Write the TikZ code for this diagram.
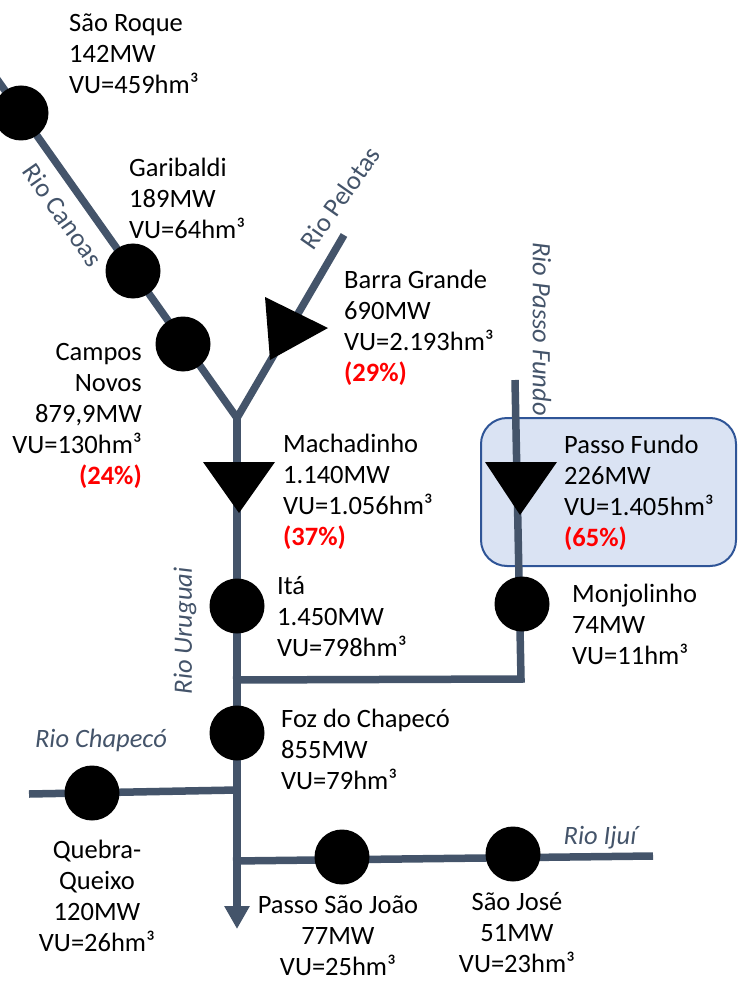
\documentclass[tikz,border=0pt]{standalone}
\usepackage{fontspec}
\setmainfont{Carlito}
\usetikzlibrary{arrows.meta}
\definecolor{river}{HTML}{44546A}
\definecolor{pct}{HTML}{FF0000}
\definecolor{boxfill}{HTML}{DAE3F3}
\definecolor{boxline}{HTML}{2F5597}
\newcommand{\pc}[1]{\textcolor{pct}{\textbf{#1}}}
\begin{document}
\begin{tikzpicture}[x=1pt,y=-1pt,
  riv/.style={draw=river, line width=7.5pt, line join=miter},
  plant/.style={circle, fill=black, minimum size=55pt, inner sep=0pt},
  dam/.style={fill=black},
  txt/.style={inner sep=0pt, font=\fontsize{26.5}{31}\selectfont},
  lbl/.style={txt, anchor=base west, align=left},
  rlbl/.style={txt, anchor=base east, align=right},
  clbl/.style={txt, anchor=base, align=center},
  rname/.style={txt, text=river},
  pfbox/.style={fill=boxfill, draw=boxline, line width=2pt, rounded corners=26pt}
]
\useasboundingbox (0,0) rectangle (738,981);
% Passo Fundo highlight box
\path[pfbox] (481,418) rectangle (736,566);
% coordinates
\coordinate (canoasTop) at (-6,75);
\coordinate (J) at (237,418);
\coordinate (pelotasTop) at (344,235);
\coordinate (uruEnd) at (237,929);
\coordinate (pfTop) at (515,380);
\coordinate (pfCorner) at (521,679);
\coordinate (pfJoin) at (233,680);
\coordinate (chapLeft) at (29,794);
\coordinate (chapJoin) at (237,790);
\coordinate (ijuiJoin) at (233,861);
\coordinate (ijuiRight) at (653,856);
% rivers
\draw[riv] (canoasTop) -- (J) -- (pelotasTop);
\draw[riv, -{Triangle[width=24pt,length=23pt]}] (J) -- (uruEnd);
\draw[riv] (pfTop) -- (pfCorner) -- (pfJoin);
\draw[riv] (chapLeft) -- (chapJoin);
\draw[riv] (ijuiJoin) -- (ijuiRight);
% run-of-river plants
\node[plant] (saoroque) at (21,113) {};
\node[plant] (garibaldi) at (133,271) {};
\node[plant] (campos) at (183,344) {};
\node[plant] (ita) at (237,606) {};
\node[plant] (monjolinho) at (522,604) {};
\node[plant] (foz) at (237,733) {};
\node[plant] (quebra) at (92,793) {};
\node[plant] (psj) at (342,857) {};
\node[plant] (saojose) at (513,854) {};
% reservoir plants (triangles)
\fill[dam] (265,297) -- (328,328) -- (270,360) -- cycle;
\fill[dam] (203,462) -- (275,462) -- (239,513) -- cycle;
\fill[dam] (485,462) -- (557,462) -- (520,515) -- cycle;
% plant labels (anchored at the baseline of the last line)
\node[lbl] (lsaoroque) at (69,94) {São Roque\\142MW\\VU=459hm³};
\node[lbl] (lgaribaldi) at (129,239) {Garibaldi\\189MW\\VU=64hm³};
\node[lbl] (lbarra) at (344,381) {Barra Grande\\690MW\\VU=2.193hm³\\\pc{(29\%)}};
\node[rlbl] (lcampos) at (142,484) {Campos\\Novos\\879,9MW\\VU=130hm³\\\pc{(24\%)}};
\node[lbl] (lmach) at (283,545) {Machadinho\\1.140MW\\VU=1.056hm³\\\pc{(37\%)}};
\node[lbl] (lpf) at (564,546) {Passo Fundo\\226MW\\VU=1.405hm³\\\pc{(65\%)}};
\node[lbl] (lmonj) at (572,664) {Monjolinho\\74MW\\VU=11hm³};
\node[lbl] (lita) at (277,656) {Itá\\1.450MW\\VU=798hm³};
\node[lbl] (lfoz) at (281,789) {Foz do Chapecó\\855MW\\VU=79hm³};
\node[clbl] (lquebra) at (97,951) {Quebra-\\Queixo\\120MW\\VU=26hm³};
\node[clbl] (lpsj) at (338,975) {Passo São João\\77MW\\VU=25hm³};
\node[clbl] (lsaojose) at (517,972) {São José\\51MW\\VU=23hm³};
% river names
\node[rname, rotate=-55] (ncanoas) at (63,215) {Rio Canoas};
\node[rname, rotate=55] (npelotas) at (340,198) {Rio Pelotas};
\node[rname, rotate=-90, font=\fontsize{26.5}{31}\selectfont\itshape] (npf) at (542,329) {Rio Passo Fundo};
\node[rname, rotate=90, font=\fontsize{26.5}{31}\selectfont\itshape] (nuru) at (185,631) {Rio Uruguai};
\node[rname, font=\fontsize{26.5}{31}\selectfont\itshape] (nchap) at (101,740) {Rio Chapecó};
\node[rname, font=\fontsize{26.5}{31}\selectfont\itshape] (nijui) at (600,838) {Rio Ijuí};
\end{tikzpicture}
\end{document}
